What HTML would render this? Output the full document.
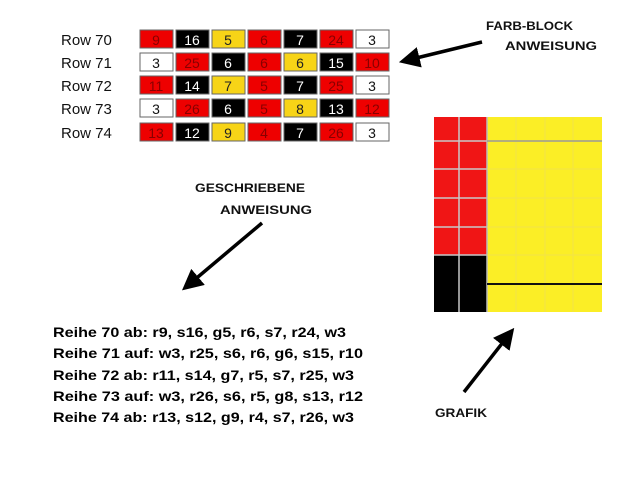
<!DOCTYPE html>
<html><head><meta charset="utf-8"><style>
html,body{margin:0;padding:0;background:#fff;}
svg{display:block;}
</style></head><body>
<svg width="640" height="480" viewBox="0 0 640 480" xmlns="http://www.w3.org/2000/svg" font-family="Liberation Sans, sans-serif">
<rect width="640" height="480" fill="#fff"/>
<defs>
<marker id="ah" markerWidth="6" markerHeight="6" refX="4.5" refY="3" orient="auto" markerUnits="strokeWidth">
<path d="M0,0 L6,3 L0,6 Z" fill="#000"/></marker>
</defs>
<!-- table -->
<g font-size="15" text-anchor="middle">
<g id="labels" font-size="15" text-anchor="start" fill="#111">
<text x="61" y="45">Row 70</text>
<text x="61" y="68">Row 71</text>
<text x="61" y="91">Row 72</text>
<text x="61" y="114">Row 73</text>
<text x="61" y="138">Row 74</text>
</g>
</g>
<g font-size="14" text-anchor="middle" stroke="#666" stroke-width="1">
<!-- row 70 y=30 -->
<g transform="translate(0,30)">
<rect x="140" width="33" height="18" fill="#e00"/><rect x="176" width="33" height="18" fill="#000"/><rect x="212" width="33" height="18" fill="#f7d417"/><rect x="248" width="33" height="18" fill="#e00"/><rect x="284" width="33" height="18" fill="#000"/><rect x="320" width="33" height="18" fill="#e00"/><rect x="356" width="33" height="18" fill="#fff"/>
<g stroke="none"><text x="156" y="15" fill="#800">9</text><text x="192" y="15" fill="#fff">16</text><text x="228" y="15" fill="#222">5</text><text x="264" y="15" fill="#800">6</text><text x="300" y="15" fill="#fff">7</text><text x="336" y="15" fill="#800">24</text><text x="372" y="15" fill="#111">3</text></g>
</g>
<g transform="translate(0,53)">
<rect x="140" width="33" height="18" fill="#fff"/><rect x="176" width="33" height="18" fill="#e00"/><rect x="212" width="33" height="18" fill="#000"/><rect x="248" width="33" height="18" fill="#e00"/><rect x="284" width="33" height="18" fill="#f7d417"/><rect x="320" width="33" height="18" fill="#000"/><rect x="356" width="33" height="18" fill="#e00"/>
<g stroke="none"><text x="156" y="15" fill="#111">3</text><text x="192" y="15" fill="#800">25</text><text x="228" y="15" fill="#fff">6</text><text x="264" y="15" fill="#800">6</text><text x="300" y="15" fill="#222">6</text><text x="336" y="15" fill="#fff">15</text><text x="372" y="15" fill="#800">10</text></g>
</g>
<g transform="translate(0,76)">
<rect x="140" width="33" height="18" fill="#e00"/><rect x="176" width="33" height="18" fill="#000"/><rect x="212" width="33" height="18" fill="#f7d417"/><rect x="248" width="33" height="18" fill="#e00"/><rect x="284" width="33" height="18" fill="#000"/><rect x="320" width="33" height="18" fill="#e00"/><rect x="356" width="33" height="18" fill="#fff"/>
<g stroke="none"><text x="156" y="15" fill="#800">11</text><text x="192" y="15" fill="#fff">14</text><text x="228" y="15" fill="#222">7</text><text x="264" y="15" fill="#800">5</text><text x="300" y="15" fill="#fff">7</text><text x="336" y="15" fill="#800">25</text><text x="372" y="15" fill="#111">3</text></g>
</g>
<g transform="translate(0,99)">
<rect x="140" width="33" height="18" fill="#fff"/><rect x="176" width="33" height="18" fill="#e00"/><rect x="212" width="33" height="18" fill="#000"/><rect x="248" width="33" height="18" fill="#e00"/><rect x="284" width="33" height="18" fill="#f7d417"/><rect x="320" width="33" height="18" fill="#000"/><rect x="356" width="33" height="18" fill="#e00"/>
<g stroke="none"><text x="156" y="15" fill="#111">3</text><text x="192" y="15" fill="#800">26</text><text x="228" y="15" fill="#fff">6</text><text x="264" y="15" fill="#800">5</text><text x="300" y="15" fill="#222">8</text><text x="336" y="15" fill="#fff">13</text><text x="372" y="15" fill="#800">12</text></g>
</g>
<g transform="translate(0,123)">
<rect x="140" width="33" height="18" fill="#e00"/><rect x="176" width="33" height="18" fill="#000"/><rect x="212" width="33" height="18" fill="#f7d417"/><rect x="248" width="33" height="18" fill="#e00"/><rect x="284" width="33" height="18" fill="#000"/><rect x="320" width="33" height="18" fill="#e00"/><rect x="356" width="33" height="18" fill="#fff"/>
<g stroke="none"><text x="156" y="15" fill="#800">13</text><text x="192" y="15" fill="#fff">12</text><text x="228" y="15" fill="#222">9</text><text x="264" y="15" fill="#800">4</text><text x="300" y="15" fill="#fff">7</text><text x="336" y="15" fill="#800">26</text><text x="372" y="15" fill="#111">3</text></g>
</g>
</g>
<!-- grafik -->
<rect x="434" y="117" width="53" height="138" fill="#f01515"/>
<rect x="434" y="255" width="53" height="57" fill="#000"/>
<rect x="487" y="117" width="115" height="195" fill="#fbee26"/>
<g stroke="#c8c8c8" stroke-width="1.5">
<line x1="459" y1="117" x2="459" y2="312"/>
<line x1="434" y1="141" x2="487" y2="141"/><line x1="434" y1="169" x2="487" y2="169"/><line x1="434" y1="198" x2="487" y2="198"/><line x1="434" y1="227" x2="487" y2="227"/><line x1="434" y1="255" x2="487" y2="255"/>
<line x1="487" y1="117" x2="487" y2="312" stroke="#bbb"/>
</g>
<g stroke="#f2e24a" stroke-width="1">
<line x1="516" y1="117" x2="516" y2="312"/><line x1="545" y1="117" x2="545" y2="312"/><line x1="573" y1="117" x2="573" y2="312"/>
<line x1="487" y1="169" x2="602" y2="169"/><line x1="487" y1="198" x2="602" y2="198"/><line x1="487" y1="227" x2="602" y2="227"/><line x1="487" y1="255" x2="602" y2="255"/>
</g>
<line x1="487" y1="141" x2="602" y2="141" stroke="#999" stroke-width="1.5"/>
<line x1="487" y1="284" x2="602" y2="284" stroke="#111" stroke-width="2"/>
<!-- arrows -->
<g stroke="#000" stroke-width="3.5" fill="none">
<line x1="482" y1="42" x2="404" y2="61" marker-end="url(#ah)"/>
<line x1="262" y1="223" x2="186" y2="287" marker-end="url(#ah)"/>
<line x1="464" y1="392" x2="511" y2="332" marker-end="url(#ah)"/>
</g>
<!-- labels -->
<g font-weight="bold" font-size="12" fill="#111">
<text x="486" y="30" textLength="87" lengthAdjust="spacingAndGlyphs">FARB-BLOCK</text>
<text x="505" y="50" textLength="92" lengthAdjust="spacingAndGlyphs">ANWEISUNG</text>
<text x="195" y="192" textLength="110" lengthAdjust="spacingAndGlyphs">GESCHRIEBENE</text>
<text x="220" y="214" textLength="92" lengthAdjust="spacingAndGlyphs">ANWEISUNG</text>
<text x="435" y="417" textLength="52" lengthAdjust="spacingAndGlyphs">GRAFIK</text>
</g>
<g font-weight="bold" font-size="14" fill="#000">
<text x="53" y="337" textLength="293" lengthAdjust="spacingAndGlyphs">Reihe 70 ab: r9, s16, g5, r6, s7, r24, w3</text>
<text x="53" y="358" textLength="310" lengthAdjust="spacingAndGlyphs">Reihe 71 auf: w3, r25, s6, r6, g6, s15, r10</text>
<text x="53" y="380" textLength="301" lengthAdjust="spacingAndGlyphs">Reihe 72 ab: r11, s14, g7, r5, s7, r25, w3</text>
<text x="53" y="401" textLength="310" lengthAdjust="spacingAndGlyphs">Reihe 73 auf: w3, r26, s6, r5, g8, s13, r12</text>
<text x="53" y="422" textLength="301" lengthAdjust="spacingAndGlyphs">Reihe 74 ab: r13, s12, g9, r4, s7, r26, w3</text>
</g>
</svg>
</body></html>
